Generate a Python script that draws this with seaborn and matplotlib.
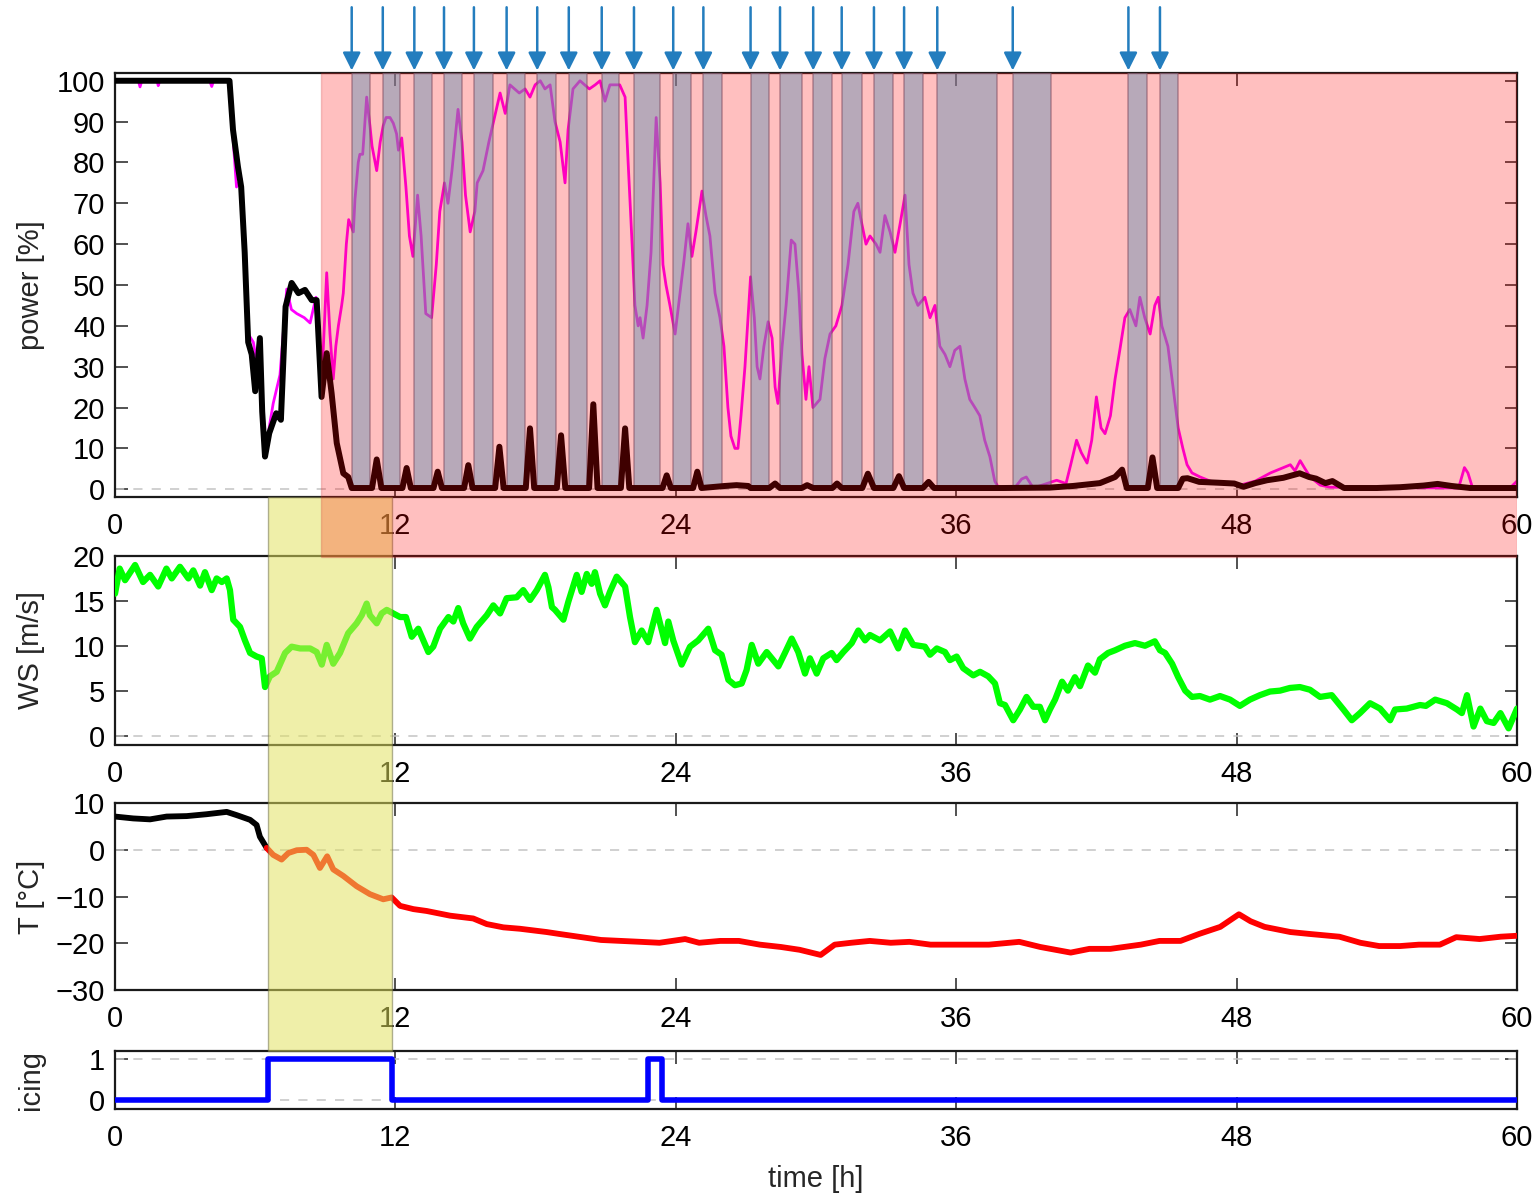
import numpy as np
import pandas as pd
import matplotlib
matplotlib.use("Agg")
import matplotlib.pyplot as plt
import seaborn as sns
from matplotlib.patches import Rectangle

# ---------------- data (time in hours) ----------------
# actual power [%]
t_act = [0, 4.9, 5.05, 5.26, 5.4, 5.55, 5.7, 5.85, 6.0, 6.2, 6.3, 6.42, 6.6, 6.9, 7.1, 7.3, 7.56,
         7.85, 8.13, 8.42, 8.63, 8.84, 9.06, 9.27, 9.49, 9.77, 9.98, 10.13,
         11.0, 11.2, 11.4, 12.3, 12.48, 12.66, 13.63, 13.81, 13.99, 14.94, 15.12, 15.3,
         16.27, 16.45, 16.63, 17.58, 17.76, 17.94, 18.91, 19.09, 19.27, 20.29, 20.47, 20.65,
         21.65, 21.83, 22.01, 23.43, 23.61, 23.79, 24.74, 24.92, 25.1,
         26.1, 26.6, 27.1, 27.2, 28.0, 28.25, 28.46, 29.39, 29.62, 29.88, 30.7, 30.9, 31.1,
         31.98, 32.22, 32.48, 33.31, 33.55, 33.77, 34.57, 34.82, 35.05, 38.0, 40.0, 41.0,
         42.15, 42.8, 43.1, 43.3, 44.2, 44.4, 44.6, 45.5, 45.7, 45.9, 46.4, 47.2, 47.9, 48.3,
         48.8, 49.3, 50.0, 50.7, 51.1, 51.4, 51.8, 52.1, 52.6, 54.0, 55.0, 56.0, 56.6, 57.2,
         58.0, 60.0]
p_act = [100, 100, 88, 79, 74, 58, 36, 33, 24, 37, 19, 8, 13.7, 18.6, 17, 44.7, 50.5,
         48, 48.8, 46.3, 46.3, 22.6, 33.3, 23.5, 11.3, 3.9, 3, 0.3,
         0.3, 7.3, 0.3, 0.3, 5.2, 0.3, 0.3, 4.3, 0.3, 0.3, 5.9, 0.3,
         0.3, 10.4, 0.3, 0.3, 14.9, 0.3, 0.3, 13.2, 0.3, 0.3, 20.8, 0.3,
         0.3, 14.9, 0.3, 0.3, 3.4, 0.3, 0.3, 4.3, 0.3,
         0.8, 1.0, 0.8, 0.3, 0.3, 1.4, 0.3, 0.3, 1.0, 0.3, 0.3, 1.4, 0.3,
         0.3, 3.8, 0.3, 0.3, 3.2, 0.3, 0.3, 1.8, 0.3, 0.3, 0.4, 0.8,
         1.5, 3.0, 4.8, 0.3, 0.3, 7.8, 0.3, 0.3, 2.6, 2.7, 1.8, 1.6, 1.4, 0.6,
         1.5, 2.2, 2.8, 3.9, 3.0, 2.6, 1.5, 2.0, 0.3, 0.3, 0.5, 0.9, 1.3, 0.8,
         0.3, 0.3]

# potential (available) power [%]
t_pot = [0, 1.0, 1.07, 1.15, 1.8, 1.85, 1.92, 4.05, 4.14, 4.22, 4.9, 5.05, 5.2, 5.4, 5.55, 5.7,
         5.92, 6.1, 6.3, 6.45, 6.77, 7.06, 7.35, 7.55, 7.78, 8.1, 8.35, 8.6, 8.84, 9.06, 9.2, 9.34,
         9.45, 9.56, 9.7, 9.77, 9.9, 10.0, 10.2, 10.27, 10.41, 10.48, 10.6, 10.77, 10.91, 11.0,
         11.2, 11.35, 11.48, 11.6, 11.77, 11.91, 12.05, 12.13, 12.27, 12.45, 12.6, 12.75, 12.95,
         13.1, 13.3, 13.55, 13.75, 13.9, 14.1, 14.25, 14.42, 14.68, 14.85, 15.0, 15.2, 15.4, 15.5,
         15.75, 16.0, 16.2, 16.48, 16.7, 16.9, 17.3, 17.55, 17.76, 17.98, 18.2, 18.4, 18.62, 18.83,
         19.05, 19.26, 19.39, 19.6, 19.9, 20.3, 20.55, 20.76, 20.97, 21.18, 21.6, 21.83, 21.96,
         22.13, 22.25, 22.39, 22.47, 22.6, 22.77, 22.94, 23.16, 23.33, 23.45, 23.58, 23.75, 23.97,
         24.18, 24.35, 24.52, 24.69, 24.86, 25.12, 25.29, 25.46, 25.68, 25.89, 26.06, 26.23, 26.36,
         26.53, 26.66, 26.79, 26.96, 27.2, 27.36, 27.48, 27.6, 27.77, 27.95, 28.12, 28.25, 28.37,
         28.55, 28.72, 28.94, 29.1, 29.27, 29.4, 29.57, 29.7, 29.87, 30.17, 30.38, 30.6, 30.85,
         31.11, 31.37, 31.62, 31.79, 31.96, 32.14, 32.31, 32.57, 32.74, 32.95, 33.17, 33.38, 33.6,
         33.81, 33.98, 34.15, 34.36, 34.66, 34.88, 35.09, 35.3, 35.52, 35.73, 35.94, 36.16, 36.37,
         36.58, 36.8, 37.01, 37.22, 37.44, 37.65, 37.82, 38.5, 38.8, 39.0, 39.3, 40.3, 40.7, 40.9,
         41.15, 41.35, 41.6, 41.8, 42.0, 42.2, 42.37, 42.6, 42.8, 43.0, 43.22, 43.43, 43.69, 43.86,
         44.07, 44.3, 44.5, 44.65, 44.8, 45.06, 45.28, 45.5, 45.7, 45.88, 46.09, 46.44, 46.87,
         47.3, 48.15, 48.8, 49.45, 49.87, 50.3, 50.5, 50.72, 50.93, 51.15, 51.58, 52.0, 57.5,
         57.75, 57.9, 58.1, 59.7, 60.0]
p_pot = [100, 100, 98.5, 100, 100, 98.8, 100, 100, 98.6, 100, 100, 86, 74, 76, 58, 38,
         36, 30, 22, 10, 21, 28, 49, 44, 43, 42, 40.7, 47, 25, 53, 38, 27,
         35, 40, 45, 48, 60, 66, 63, 71, 80, 82, 82, 96, 89, 84,
         78, 85, 89, 91, 91, 89.6, 87, 83, 86, 74, 62, 57, 72,
         62, 43, 42, 55, 68, 75, 70, 78, 93, 85, 72, 63, 68, 75,
         78, 85, 90, 97, 92, 99, 97, 98, 96, 99, 100, 98, 99, 90,
         85, 75, 88, 98, 100, 98, 99, 100, 95, 99, 99, 96, 80,
         60, 45, 40, 42, 37, 45, 58, 91, 75, 55, 50, 45, 38,
         48, 56, 65, 57, 63, 73, 67, 62, 48, 42, 35, 20, 13,
         10, 10, 18, 30, 52, 42, 30, 27, 35, 41, 37, 25, 21,
         35, 45, 61, 60, 48, 33, 22, 30, 20, 22, 32, 38, 40,
         45, 55, 68, 70, 65, 60, 62, 60, 58, 67, 63, 58, 65,
         72, 55, 48, 45, 47, 42, 45, 35, 33, 30, 34, 35, 27,
         22, 20, 18, 12, 8, 2, 0.3, 0.3, 2.5, 3, 0.3, 2.2, 1.4, 6,
         12, 9, 6.4, 12, 22.6, 15, 13.6, 18, 27, 34, 42, 44, 40, 47,
         42, 38, 45, 47, 40, 35, 25, 15, 10, 6, 4, 3, 2,
         1.5, 1, 2, 4, 5, 6, 4.5, 7, 5, 3, 1, 0.5, 0.3,
         5.3, 4, 0.3, 0.3, 2]

# turbine stops (grey bands) and arrows
stop_start = [10.13, 11.46, 12.81, 14.08, 15.36, 16.76, 18.07, 19.42, 20.83, 22.21, 23.89,
              25.18, 27.20, 28.46, 29.88, 31.10, 32.48, 33.77, 35.19, 38.42, 43.37, 44.72]
stop_end = [10.91, 12.20, 13.58, 14.86, 16.16, 17.55, 18.87, 20.19, 21.58, 23.32, 24.64,
            25.99, 28.00, 29.39, 30.70, 31.98, 33.31, 34.57, 37.73, 40.04, 44.15, 45.50]
curtail_start = 8.8     # pink period
icing_on, icing_off = 6.55, 11.87   # yellow period

# wind speed [m/s]
t_ws = [0, 0.2, 0.43, 0.86, 1.2, 1.5, 1.85, 2.2, 2.43, 2.78, 3.14, 3.35, 3.64, 3.85, 4.14, 4.35,
        4.57, 4.78, 4.92, 5.06, 5.35, 5.56, 5.78, 6.06, 6.28, 6.42, 6.63, 6.92, 7.28, 7.56, 7.92,
        8.35, 8.63, 8.85, 9.06, 9.34, 9.63, 9.98, 10.34, 10.56, 10.77, 10.91, 11.2, 11.41, 11.63,
        11.91, 12.2, 12.45, 12.7, 12.98, 13.41, 13.62, 13.91, 14.27, 14.48, 14.69, 14.9, 15.19,
        15.48, 15.91, 16.19, 16.48, 16.76, 17.19, 17.47, 17.76, 18.05, 18.4, 18.55, 18.7, 18.83,
        19.19, 19.4, 19.76, 19.97, 20.19, 20.4, 20.54, 20.76, 20.97, 21.18, 21.47, 21.83, 22.04,
        22.25, 22.54, 22.82, 23.18, 23.54, 23.68, 23.89, 24.25, 24.61, 24.96, 25.39, 25.68, 25.96,
        26.25, 26.53, 26.82, 27.03, 27.25, 27.53, 27.89, 28.39, 28.67, 28.96, 29.24, 29.53, 29.74,
        30.03, 30.31, 30.67, 30.88, 31.17, 31.53, 31.81, 32.1, 32.31, 32.74, 33.17, 33.52, 33.81,
        34.16, 34.66, 34.88, 35.17, 35.52, 35.73, 36.02, 36.3, 36.73, 37.02, 37.37, 37.66, 37.87,
        38.09, 38.44, 38.73, 39.01, 39.3, 39.58, 39.8, 40.01, 40.23, 40.53, 40.78, 41.08, 41.3,
        41.64, 41.94, 42.15, 42.5, 42.8, 43.22, 43.65, 44.08, 44.5, 44.72, 44.94, 45.24, 45.5,
        45.8, 46.09, 46.43, 46.86, 47.29, 47.72, 48.14, 48.57, 49.0, 49.43, 49.86, 50.28, 50.71,
        51.14, 51.57, 52.07, 52.57, 52.93, 53.28, 53.71, 54.14, 54.57, 54.78, 55.28, 55.85, 56.1,
        56.5, 57.0, 57.43, 57.64, 57.86, 58.14, 58.43, 58.71, 59.0, 59.29, 59.64, 60.0]
ws = [15.8, 18.6, 17.3, 19.0, 17.1, 17.9, 16.6, 18.6, 17.5, 18.8, 17.5, 18.4, 16.7, 18.2, 16.2, 17.5,
      17.1, 17.5, 16.2, 12.9, 12.1, 10.6, 9.2, 8.8, 8.6, 5.4, 6.6, 7.1, 9.2, 9.9, 9.7,
      9.7, 9.3, 7.9, 10.1, 8.0, 9.2, 11.4, 12.5, 13.4, 14.7, 13.4, 12.5, 13.6, 14.0,
      13.6, 13.2, 13.2, 11.0, 11.9, 9.3, 9.9, 11.9, 13.2, 12.7, 14.2, 12.5, 10.8,
      12.1, 13.4, 14.5, 13.6, 15.3, 15.4, 16.2, 15.1, 16.2, 17.9, 16.5, 14.3, 14.0,
      12.9, 14.9, 17.9, 16.0, 18.0, 16.9, 18.2, 15.8, 14.5, 16.0, 17.7, 16.6, 13.2,
      10.4, 11.7, 10.4, 14.0, 10.3, 12.7, 10.6, 7.9, 9.9, 10.6, 11.9, 9.5, 9.0,
      6.2, 5.6, 5.8, 7.3, 10.1, 8.0, 9.3, 7.7, 9.2, 10.8, 9.3, 6.9, 8.6,
      6.9, 8.6, 9.2, 8.4, 9.3, 10.3, 11.7, 10.6, 11.2, 10.6, 11.6, 9.7, 11.7,
      10.1, 9.9, 9.0, 9.7, 9.3, 8.4, 8.8, 7.5, 6.7, 7.1, 6.6, 5.8, 3.6,
      3.4, 1.7, 2.9, 4.3, 3.2, 3.2, 1.7, 2.9, 4.0, 6.0, 5.0, 6.5, 5.5,
      7.8, 7.0, 8.5, 9.2, 9.5, 10.0, 10.3, 10.0, 10.5, 9.5, 9.2, 8.0, 6.5,
      5.0, 4.3, 4.4, 4.0, 4.4, 4.0, 3.3, 4.0, 4.5, 4.9, 5.0, 5.3, 5.4,
      5.1, 4.3, 4.5, 2.9, 1.7, 2.5, 3.6, 3.0, 1.7, 2.9, 3.0, 3.4, 3.3,
      4.0, 3.6, 2.9, 2.5, 4.5, 1.0, 3.0, 1.6, 1.4, 2.5, 0.8, 3.0]

# temperature [deg C]: above-zero part (black) and sub-zero part (red)
t_temp_warm = [0, 0.78, 1.5, 2.21, 3.07, 3.92, 4.78, 5.21, 5.78, 6.06, 6.2, 6.49]
temp_warm = [7.1, 6.7, 6.5, 7.1, 7.2, 7.6, 8.1, 7.4, 6.4, 5.3, 2.8, 0.4]
t_temp_cold = [6.49, 6.77, 7.13, 7.42, 7.78, 8.2, 8.49, 8.77, 9.08, 9.34, 9.77, 10.34, 10.91,
               11.48, 11.84, 12.2, 12.77, 13.34, 14.34, 15.33, 15.91, 16.62, 17.33, 18.47, 19.0,
               20.8, 22.5, 23.3, 24.4, 25.0, 25.9, 26.7, 27.6, 28.5, 29.3, 30.2, 30.8, 31.5, 32.3,
               33.2, 34.0, 34.9, 36.2, 37.4, 38.7, 39.6, 40.9, 41.7, 42.6, 43.9, 44.7, 45.6, 46.4,
               47.3, 48.1, 48.6, 49.2, 50.3, 51.1, 52.4, 53.3, 54.1, 55.0, 55.8, 56.7, 57.4, 58.4,
               59.3, 60.0]
temp_cold = [0.4, -1.1, -2.1, -0.7, -0.1, 0.0, -1.1, -3.9, -1.4, -4.2, -5.6, -7.8, -9.5,
             -10.6, -10.2, -12.0, -12.7, -13.1, -14.1, -14.7, -15.9, -16.6, -16.9, -17.6, -18.0,
             -19.3, -19.7, -19.9, -19.1, -19.9, -19.5, -19.5, -20.3, -20.8, -21.4, -22.5, -20.3,
             -19.9, -19.5, -19.9, -19.7, -20.3, -20.3, -20.3, -19.7, -20.8, -22.0, -21.2, -21.2,
             -20.3, -19.5, -19.5, -18.0, -16.5, -13.8, -15.3, -16.5, -17.6, -18.0, -18.6, -19.9,
             -20.6, -20.6, -20.3, -20.3, -18.7, -19.1, -18.6, -18.4]

# icing indicator (change points)
t_icing = [0, 6.55, 11.87, 22.8, 23.4, 60]
icing = [0, 1, 0, 1, 0, 0]

x_ticks = [0, 12, 24, 36, 48, 60]

# ---------------- style ----------------
sns.set_theme(style="white")
plt.rcParams["font.family"] = ["Liberation Sans", "DejaVu Sans"]

W, H = 1537, 1195
fig = plt.figure(figsize=(W / 100, H / 100), dpi=100)

# layout in pixels from the top
LEFT, RIGHT = 115, 1517
P_TOP, P_BOT = 73, 497
W_TOP, W_BOT = 556, 744.5
T_TOP, T_BOT = 803, 990
I_TOP, I_BOT = 1051, 1109


def box(top, bottom):
    return [LEFT / W, 1 - bottom / H, (RIGHT - LEFT) / W, (bottom - top) / H]


ax_p = fig.add_axes(box(P_TOP, P_BOT))
ax_w = fig.add_axes(box(W_TOP, W_BOT))
ax_t = fig.add_axes(box(T_TOP, T_BOT))
ax_i = fig.add_axes(box(I_TOP, I_BOT))

line_kw = dict(estimator=None, sort=False, legend=False,
               solid_joinstyle="round", solid_capstyle="round")
dash = (0, (6, 6))
for ax in (ax_p, ax_w, ax_t, ax_i):
    ax.axhline(0, color="#c4c4c4", lw=1.1, ls=dash, zorder=1)
ax_i.axhline(1, color="#c4c4c4", lw=1.1, ls=dash, zorder=1)

# power panel
sns.lineplot(x=t_pot, y=p_pot, ax=ax_p, color="#ff00ff", linewidth=2.0, zorder=2.5, **line_kw)
P_YLIM = (-1.9, 101.9)
band_floor = (0.3 - P_YLIM[0]) / (P_YLIM[1] - P_YLIM[0])
for s, e in zip(stop_start, stop_end):
    ax_p.axvspan(s, e, ymin=band_floor, ymax=1, facecolor=(65 / 255, 199 / 255, 243 / 255, 0.5),
                 edgecolor=(0.35, 0.4, 0.5, 0.55), linewidth=1.1, zorder=3)
sns.lineplot(x=t_act, y=p_act, ax=ax_p, color="black", linewidth=4.3, zorder=4, **line_kw)
ax_p.set_ylim(*P_YLIM)
ax_p.set_yticks(range(0, 101, 10))
ax_p.set_ylabel("power [%]")

xtrans = ax_p.get_xaxis_transform()
for s in stop_start:
    ax_p.annotate("", xy=(s, 1.006), xycoords=xtrans, xytext=(s, 1.155), textcoords=xtrans,
                  annotation_clip=False,
                  arrowprops=dict(arrowstyle="-|>,head_length=0.6,head_width=0.3",
                                  mutation_scale=18, color="#237dbe", lw=1.8,
                                  shrinkA=0, shrinkB=0))

# wind speed
sns.lineplot(x=t_ws, y=ws, ax=ax_w, color="#00ff00", linewidth=4.5, zorder=3, **line_kw)
ax_w.set_ylim(-1, 20)
ax_w.set_yticks([0, 5, 10, 15, 20])
ax_w.set_ylabel("WS [m/s]")

# temperature
sns.lineplot(x=t_temp_warm, y=temp_warm, ax=ax_t, color="black", linewidth=4.2, zorder=3, **line_kw)
sns.lineplot(x=t_temp_cold, y=temp_cold, ax=ax_t, color="#ff0000", linewidth=4.2, zorder=3, **line_kw)
ax_t.set_ylim(-30, 10)
ax_t.set_yticks([-30, -20, -10, 0, 10])
ax_t.set_ylabel("T [°C]")

# icing
sns.lineplot(x=t_icing, y=icing, ax=ax_i, color="#0000ff", linewidth=4.0, zorder=3,
             drawstyle="steps-post", **line_kw)
ax_i.set_ylim(-0.23, 1.21)
ax_i.set_yticks([0, 1])
ax_i.set_ylabel("icing")
ax_i.set_xlabel("time [h]", fontsize=21, labelpad=9)

for ax in (ax_p, ax_w, ax_t, ax_i):
    ax.set_xlim(0, 60)
    ax.set_xticks(x_ticks)
    ax.set_facecolor("white")
    ax.tick_params(axis="both", direction="in", length=9, width=1.2, colors="#333333",
                   labelcolor="black", labelsize=21, bottom=True, left=True, top=True, right=True)
    ax.tick_params(axis="x", pad=11)
    ax.tick_params(axis="y", pad=7)
    ax.yaxis.label.set_size(21)
    ax.yaxis.set_label_coords(-0.05, 0.5)
    for sp in ax.spines.values():
        sp.set_linewidth(1.6)
        sp.set_color("#1a1a1a")
    ax.grid(False)

# overlay (highlighted periods drawn over all panels)
ov = fig.add_axes([LEFT / W, 0, (RIGHT - LEFT) / W, 1], zorder=10)
ov.set_xlim(0, 60)
ov.set_ylim(H, 0)
ov.axis("off")
ov.add_patch(Rectangle((icing_on, P_BOT), icing_off - icing_on, I_TOP - P_BOT,
                       facecolor=(226 / 255, 226 / 255, 94 / 255, 0.53),
                       edgecolor=(0.45, 0.45, 0.3, 0.55), linewidth=1.0))
ov.add_patch(Rectangle((curtail_start, P_TOP), 60 - curtail_start, W_TOP + 1 - P_TOP,
                       facecolor=(1, 0, 0, 0.25), edgecolor=(0.8, 0.2, 0.2, 0.25), linewidth=1.0))

fig.savefig("out.png", dpi=100, facecolor="white")
